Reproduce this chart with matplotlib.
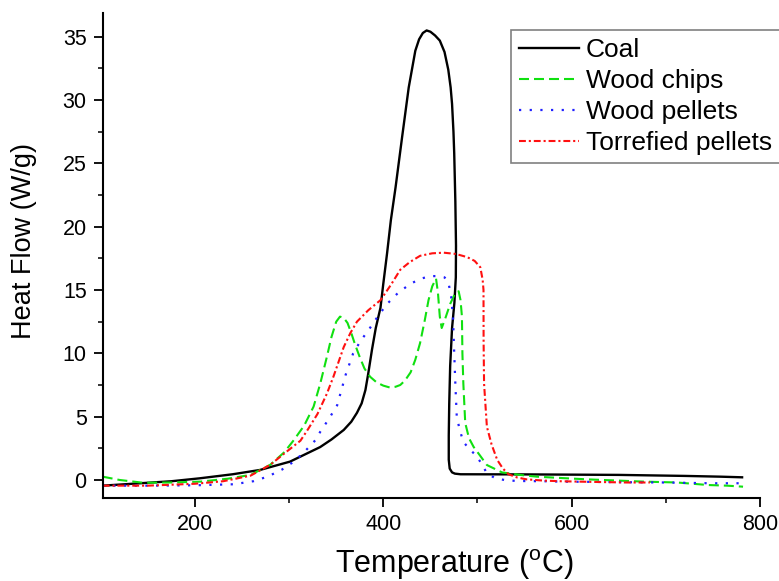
import matplotlib
matplotlib.use("Agg")
import matplotlib.pyplot as plt
from matplotlib.ticker import MultipleLocator

plt.rcParams['font.family'] = ['Liberation Sans', 'DejaVu Sans']
plt.rcParams['mathtext.fontset'] = 'custom'
plt.rcParams['mathtext.rm'] = 'Liberation Sans'

# DSC curves (temperature in C, heat flow in W/g)
coal_t = [102, 142, 175, 205, 240, 269, 301, 333, 345, 358, 366, 372, 377, 381, 384, 388,
          392, 397, 400, 404, 408, 413, 420, 427, 434, 438, 442, 446, 450, 455, 460, 465,
          469, 471.5, 473, 474.5, 475.3, 476.5, 477.2, 477, 475.5, 473, 471, 470, 469.5, 469.5,
          470.5, 473, 476, 482, 550, 650, 720, 758, 781]
coal_v = [-0.45, -0.26, -0.1, 0.13, 0.45, 0.79, 1.45, 2.6, 3.2, 3.95, 4.6, 5.3, 6.05, 7.1, 8.4, 10.3,
          12.0, 13.6, 15.5, 17.9, 20.5, 23.1, 27.1, 31.0, 33.9, 34.8, 35.3, 35.5, 35.4, 35.1, 34.7, 33.8,
          32.4, 31.0, 29.7, 27.5, 25.8, 22.0, 18.5, 16.0, 14.0, 12.0, 9.0, 6.0, 3.5, 1.6,
          0.9, 0.6, 0.5, 0.45, 0.44, 0.4, 0.32, 0.26, 0.21]

chips_t = [102, 120, 145, 175, 206, 235, 259, 280, 295, 305, 316, 326, 333, 340, 345, 350,
           354, 358, 362, 366, 370, 375, 380, 386, 393, 400, 407, 413, 418, 423, 429, 434,
           439, 444, 448, 452, 456, 458, 460, 462, 466, 471, 476, 480, 482, 483.5, 484, 485,
           487, 491, 496, 502, 510, 526, 545, 563, 590, 616, 650, 676, 712, 745, 765, 782]
chips_v = [0.26, 0.0, -0.22, -0.2, -0.13, 0.1, 0.4, 1.2, 2.2, 3.15, 4.3, 5.8, 7.6, 9.7, 11.3, 12.5,
           12.9, 12.8, 12.4, 11.6, 10.7, 9.7, 8.8, 8.15, 7.7, 7.45, 7.3, 7.36, 7.5, 7.85, 8.5, 9.5,
           10.8, 12.6, 14.2, 15.3, 15.9, 14.8, 12.9, 12.0, 12.8, 13.9, 14.7, 14.9, 14.2, 12.9, 10.0, 7.6,
           4.5, 3.3, 2.6, 2.0, 1.18, 0.6, 0.4, 0.26, 0.15, 0.05, -0.05, -0.13, -0.2, -0.4, -0.45, -0.53]

pellets_t = [102, 150, 200, 241, 262, 277, 292, 305, 316, 328, 333, 342, 351, 360, 368, 376,
             384, 394, 404, 416, 429, 440, 450, 459, 465, 469, 472, 474, 475.3, 476.5, 478, 481,
             485, 492, 499, 505, 510, 519, 530, 542, 570, 588, 620, 659, 700, 747, 782]
pellets_v = [-0.45, -0.45, -0.42, -0.34, -0.1, 0.26, 0.8, 1.45, 2.2, 3.15, 3.8, 4.8, 5.9, 8.3, 10.0, 11.0,
             11.8, 12.9, 13.9, 14.8, 15.5, 15.9, 16.1, 16.1, 16.0, 15.65, 14.5, 12.9, 10.0, 7.6, 5.0, 4.0,
             3.0, 2.4, 1.9, 1.2, 0.53, 0.13, -0.02, -0.08, -0.1, -0.13, -0.15, -0.18, -0.2, -0.26, -0.26]

torr_t = [102, 150, 200, 230, 259, 280, 295, 312, 320, 330, 340, 347, 358, 365, 372, 384,
          397, 408, 418, 428, 439, 452, 464, 477, 489, 497, 503, 505.5, 506.4, 506.5, 507, 510,
          515, 521, 527, 533, 542, 552, 570, 588, 620, 659, 683]
torr_v = [-0.45, -0.45, -0.3, -0.1, 0.34, 1.2, 2.1, 3.1, 4.0, 5.2, 6.8, 8.15, 10.5, 11.6, 12.5, 13.4,
          14.2, 15.4, 16.6, 17.2, 17.7, 17.9, 17.95, 17.85, 17.6, 17.3, 16.8, 15.8, 15.0, 11.0, 7.6, 4.2,
          2.8, 1.58, 0.9, 0.45, 0.2, 0.05, -0.05, -0.1, -0.15, -0.2, -0.2]

fig = plt.figure(figsize=(7.79, 5.81), dpi=100)
ax = fig.add_axes([0.1318, 0.1423, 0.8438, 0.8358])

ax.plot(coal_t, coal_v, color='black', lw=1.7, label='Coal')
ax.plot(chips_t, chips_v, color='#10e010', lw=1.5, dashes=(4.8, 2.4), label='Wood chips')
ax.plot(pellets_t, pellets_v, color='#2020ff', lw=1.6, dashes=(1, 3.8), label='Wood pellets')
ax.plot(torr_t, torr_v, color='#ff1010', lw=1.5, dashes=(3.3, 1.4, 1, 1.4), label='Torrefied pellets')

ax.set_xlim(102, 800)
ax.set_ylim(-1.45, 36.9)
ax.xaxis.set_major_locator(MultipleLocator(200))
ax.xaxis.set_minor_locator(MultipleLocator(100))
ax.yaxis.set_major_locator(MultipleLocator(5))
ax.yaxis.set_minor_locator(MultipleLocator(2.5))
ax.spines['top'].set_visible(False)
ax.spines['right'].set_visible(False)
for s in ('left', 'bottom'):
    ax.spines[s].set_linewidth(1.5)
ax.tick_params(which='major', direction='out', length=6.5, width=1.3, labelsize=15.5, pad=5)
ax.tick_params(which='minor', direction='out', length=3.5, width=1.1)

ax.set_xlabel(r'Temperature ($^{\mathrm{o}}$C)', fontsize=22)
ax.set_ylabel('Heat Flow (W/g)', fontsize=19.5)
ax.xaxis.set_label_coords(0.535, -0.1)
ax.yaxis.set_label_coords(-0.1, 0.53)

leg = ax.legend(loc='upper left', bbox_to_anchor=(0.6556, 0.9484),
                bbox_transform=fig.transFigure, fontsize=19, frameon=True,
                fancybox=False, edgecolor='#808080', framealpha=1,
                handlelength=2.27, handletextpad=0.27, labelspacing=0.27,
                borderpad=0.3, borderaxespad=0)
leg.get_frame().set_linewidth(1.2)

fig.savefig('out.png', dpi=100)
